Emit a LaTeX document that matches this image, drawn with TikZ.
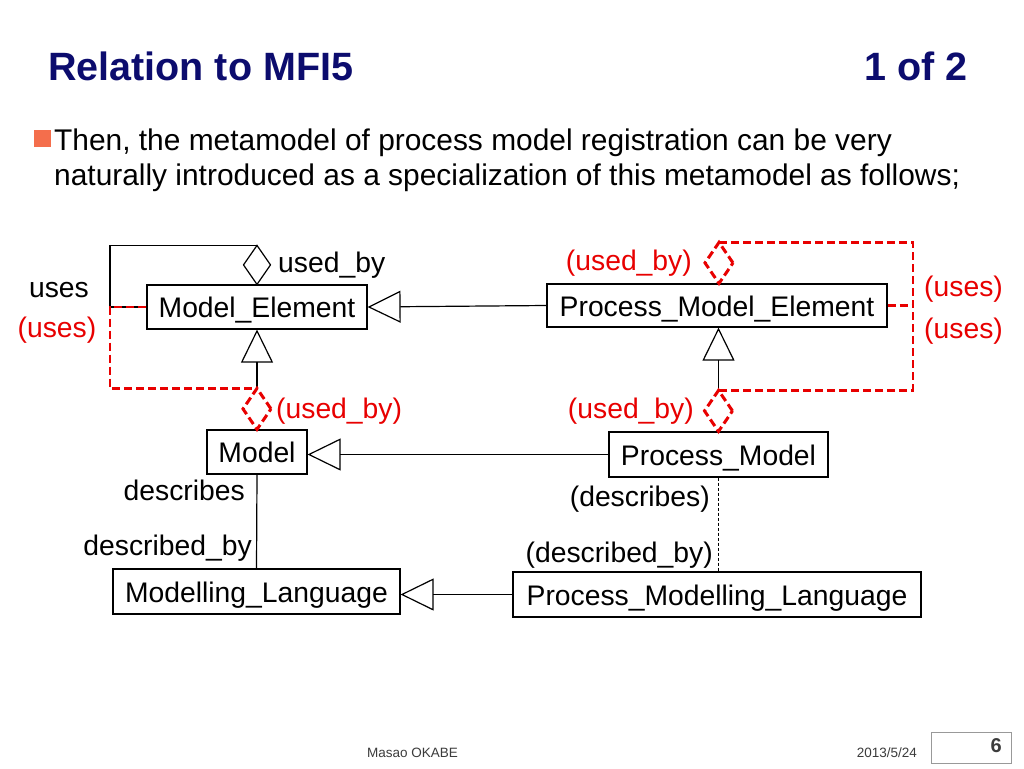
\documentclass[tikz,border=0pt]{standalone}
\usepackage{fontspec}
\setmainfont{Liberation Sans}
\usetikzlibrary{arrows.meta,shapes.geometric}
\definecolor{navy}{RGB}{12,12,110}
\definecolor{ured}{RGB}{232,0,0}
\definecolor{bulletor}{RGB}{244,110,76}
\definecolor{foot}{RGB}{60,60,60}
\tikzset{
  cls/.style={draw=black,line width=1.2,fill=white,inner sep=0,text height=21,text depth=0,font=\fontsize{28.3}{31}\selectfont},
  lbl/.style={inner sep=0,font=\fontsize{28.3}{31}\selectfont},
  rlbl/.style={lbl,text=ured},
  gen/.style={line width=1.2,-{Triangle[open,length=33,width=32,line width=1.2]}},
  blkdiam/.style={diamond,draw=black,line width=1.2,fill=white,minimum width=27,minimum height=39,inner sep=0,outer sep=0},
  reddiam/.style={diamond,draw=ured,line width=3,dash pattern=on 8 off 4,fill=white,minimum width=28,minimum height=41,inner sep=0,outer sep=0},
  redline/.style={draw=ured,line width=2.6,dash pattern=on 8 off 4},
  assoc/.style={line width=1.2},
}
\begin{document}
\begin{tikzpicture}[x=1pt,y=-1pt]
\useasboundingbox[fill=white] (0,0) rectangle (1024,768);

% title
\node[anchor=base west,inner sep=0,text=navy,font=\fontsize{39.5}{44}\selectfont\bfseries] (title) at (48,80) {Relation to MFI5};
\node[anchor=base east,inner sep=0,text=navy,font=\fontsize{39.5}{44}\selectfont\bfseries] (page) at (968,80) {1 of 2};

% bullet
\fill[bulletor] (34,130) rectangle (51,147);
\node[anchor=base west,inner sep=0,font=\fontsize{29.9}{34}\selectfont] (b1) at (54,150) {Then, the metamodel of process model registration can be very};
\node[anchor=base west,inner sep=0,font=\fontsize{29.9}{34}\selectfont] (b2) at (54,185) {naturally introduced as a specialization of this metamodel as follows;};

% classes
\node[cls,minimum width=220,minimum height=44] (me) at (257,307) {Model\_Element};
\node[cls,minimum width=340,minimum height=43] (pme) at (717,305.5) {Process\_Model\_Element};
\node[cls,minimum width=100,minimum height=44] (m) at (257,452) {Model};
\node[cls,minimum width=219,minimum height=45] (pm) at (718.5,454.5) {Process\_Model};
\node[cls,minimum width=287,minimum height=45] (ml) at (256.5,591.5) {Modelling\_Language};
\node[cls,minimum width=408,minimum height=45] (pml) at (717,594.5) {Process\_Modelling\_Language};

% generalizations
\draw[gen] (m.north) -- (me.south);
\draw[gen] (pm.north) -- (pm.north |- pme.south);
\draw[gen] (pme.west) -- (me.east);
\draw[gen] (pm.west) -- (pm.west -| m.east);
\draw[gen] (pml.west) -- (pml.west -| ml.east);

% describes
\draw[assoc] (m.south) -- (ml.north);
\draw[line width=0.8,dash pattern=on 3 off 2] (pm.south) -- (pm.south |- pml.north);

% self association of Model_Element
\node[blkdiam,anchor=south] (d0) at (me.north) {};
\coordinate (c1) at (110,307);
\draw[assoc] (d0.north) -- (d0.north -| c1) -- (c1) -- (me.west);

% red dashed (uses/used_by) on left
\node[reddiam,anchor=south] (d1) at (m.north) {};
\draw[redline] (me.west) -- (c1) -- (d1.north -| c1) -- (d1.north);

% red dashed on right
\node[reddiam,anchor=south] (d2) at ([xshift=2]pme.north) {};
\node[reddiam,anchor=south] (d3) at (pm.north) {};
\coordinate (c3) at (913,0 |- d2.north);
\coordinate (c4) at (913,0 |- d3.north);
\coordinate (c5) at (913,0 |- pme.east);
\draw[redline] (d2.north) -- (c3) -- (c4) -- (d3.north);
\draw[redline] (pme.east) -- (c5);

% labels
\node[lbl,anchor=west] (l1) at (278,265) {used\_by};
\node[lbl] (l2) at (59,290) {uses};
\node[rlbl] (l3) at (57,330) {(uses)};
\node[rlbl,anchor=west] (l4) at (276,411) {(used\_by)};
\node[rlbl,anchor=east] (l5) at (692,263) {(used\_by)};
\node[rlbl,anchor=west] (l6) at (924,289) {(uses)};
\node[rlbl,anchor=west] (l7) at (924,331) {(uses)};
\node[rlbl,anchor=east] (l8) at (694,411) {(used\_by)};
\node[lbl,anchor=east] (l9) at (245,490) {describes};
\node[lbl,anchor=east] (l10) at (252,548) {described\_by};
\node[lbl,anchor=east] (l11) at (710,499) {(describes)};
\node[lbl,anchor=east] (l12) at (713,555) {(described\_by)};

% footer
\node[anchor=base west,inner sep=0,text=foot,font=\fontsize{13.5}{15}\selectfont] (f1) at (367,757) {Masao OKABE};
\node[anchor=base east,inner sep=0,text=foot,font=\fontsize{13.5}{15}\selectfont] (f2) at (917,757) {2013/5/24};
\node[draw=black!40,line width=1,minimum width=80,minimum height=31,inner sep=0] (pgbox) at (971,747.5) {};
\node[anchor=base east,inner sep=0,text=foot,font=\fontsize{20}{22}\selectfont\bfseries] (pgn) at (1002,752) {6};
\end{tikzpicture}
\end{document}
